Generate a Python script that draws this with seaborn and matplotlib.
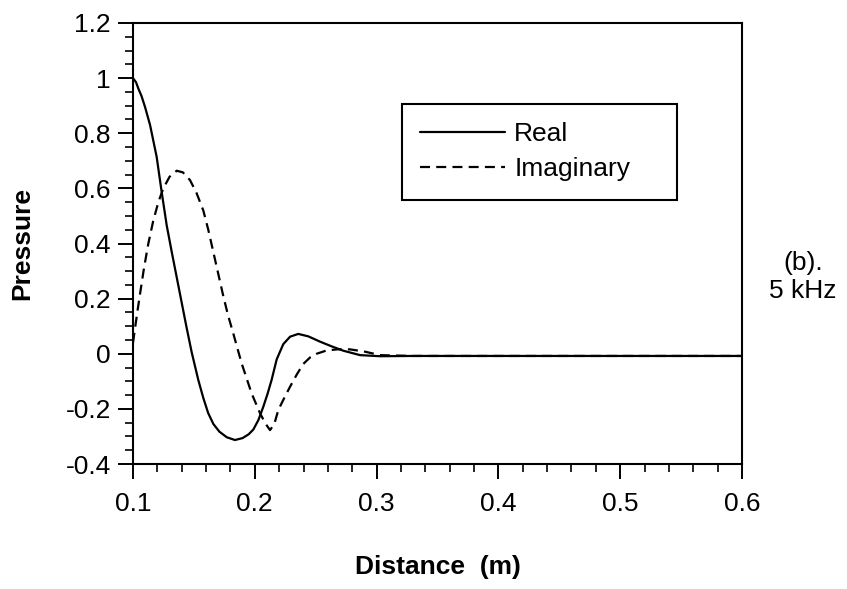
import matplotlib
matplotlib.use("Agg")
import matplotlib.pyplot as plt
import seaborn as sns
import pandas as pd
from matplotlib.ticker import MultipleLocator, FuncFormatter

# ---- data ----
real_x = [0.100, 0.1025, 0.1044, 0.1070, 0.1099, 0.114, 0.1194, 0.1236, 0.1277, 0.132,
          0.136, 0.140, 0.144, 0.1482, 0.1536, 0.1577, 0.1617, 0.166, 0.171, 0.177,
          0.1837, 0.190, 0.1950, 0.1988, 0.203, 0.207, 0.2105, 0.2138, 0.218, 0.2234,
          0.229, 0.2357, 0.244, 0.2535, 0.263, 0.2727, 0.2864, 0.303, 0.33, 0.4, 0.5, 0.6]
real_y = [1.0, 0.985, 0.962, 0.935, 0.895, 0.83, 0.715, 0.585, 0.465, 0.365,
          0.275, 0.185, 0.095, 0.005, -0.095, -0.16, -0.215, -0.255, -0.283, -0.303,
          -0.313, -0.306, -0.292, -0.275, -0.24, -0.192, -0.145, -0.095, -0.02, 0.035,
          0.062, 0.072, 0.063, 0.044, 0.027, 0.011, -0.005, -0.009, -0.008, -0.008, -0.008, -0.008]

imag_x = [0.100, 0.1016, 0.1035, 0.1057, 0.109, 0.1126, 0.1165, 0.1208, 0.1249, 0.130,
          0.1359, 0.141, 0.1468, 0.152, 0.1577, 0.1618, 0.1659, 0.170, 0.1741, 0.178,
          0.1823, 0.1892, 0.1974, 0.2043, 0.2090, 0.2125, 0.216, 0.2193, 0.224, 0.2289,
          0.2345, 0.2398, 0.2455, 0.2508, 0.259, 0.268, 0.278, 0.290, 0.3028, 0.33,
          0.4, 0.5, 0.6]
imag_y = [0.04, 0.09, 0.15, 0.215, 0.31, 0.40, 0.48, 0.55, 0.60, 0.642,
          0.664, 0.658, 0.63, 0.585, 0.52, 0.45, 0.37, 0.29, 0.21, 0.14,
          0.074, -0.035, -0.144, -0.216, -0.255, -0.277, -0.255, -0.204, -0.162, -0.12,
          -0.075, -0.037, -0.013, 0.0, 0.012, 0.016, 0.016, 0.008, -0.005, -0.008,
          -0.008, -0.008, -0.008]

series_names = ["Real", "Imaginary"]
x_ticks = [0.1, 0.2, 0.3, 0.4, 0.5, 0.6]
y_ticks = [-0.4, -0.2, 0, 0.2, 0.4, 0.6, 0.8, 1.0, 1.2]

df = pd.concat([
    pd.DataFrame({"x": real_x, "y": real_y, "Series": series_names[0]}),
    pd.DataFrame({"x": imag_x, "y": imag_y, "Series": series_names[1]}),
], ignore_index=True)

sns.set_theme(style="ticks")
plt.rcParams["font.family"] = ["Liberation Sans", "DejaVu Sans"]
plt.rcParams["axes.unicode_minus"] = False
plt.rcParams["text.color"] = "black"
plt.rcParams["axes.labelcolor"] = "black"

fig = plt.figure(figsize=(8.47, 5.89), dpi=100)
ax = fig.add_axes([133 / 847, 1 - 464 / 589, (742 - 133) / 847, (464 - 23) / 589])

sns.lineplot(data=df, x="x", y="y", style="Series", style_order=series_names,
             dashes={"Real": "", "Imaginary": (4.5, 2.8)}, color="black",
             linewidth=1.6, ax=ax, sort=False, estimator=None)

ax.set_xlim(0.1, 0.6)
ax.set_ylim(-0.4, 1.2)
ax.set_xticks(x_ticks)
ax.set_yticks(y_ticks)
ax.xaxis.set_minor_locator(MultipleLocator(0.02))
ax.yaxis.set_minor_locator(MultipleLocator(0.05))
ax.xaxis.set_major_formatter(FuncFormatter(lambda v, p: "%g" % round(v, 3)))
ax.yaxis.set_major_formatter(FuncFormatter(lambda v, p: "%g" % round(v, 3)))

for s in ax.spines.values():
    s.set_visible(True)
    s.set_linewidth(1.5)
    s.set_color("black")

ax.tick_params(axis="both", which="major", direction="out", length=11, width=1.4,
               labelsize=19, color="black", labelcolor="black")
ax.tick_params(axis="both", which="minor", direction="out", length=5.5, width=1.2,
               color="black")
ax.tick_params(axis="y", which="major", pad=5)
ax.tick_params(axis="x", which="major", pad=9)

ax.set_xlabel("Distance  (m)", fontsize=19, fontweight="bold", color="black")
ax.set_ylabel("Pressure", fontsize=19, fontweight="bold", color="black")
ax.xaxis.set_label_coords(0.5, (464 - 567) / 441)
ax.xaxis.label.set_va("center")
ax.yaxis.set_label_coords((22 - 133) / 609, 0.5)
ax.yaxis.label.set_va("center")

x0 = (402 - 133) / 609
x1 = (677 - 133) / 609
y_top = (464 - 104) / 441
y_bot = (464 - 198) / 441
leg = ax.legend(handles=ax.get_legend_handles_labels()[0],
                labels=series_names, loc="upper left", mode="expand",
                bbox_to_anchor=(x0, y_bot, x1 - x0, y_top - y_bot),
                borderaxespad=0, fontsize=19, handlelength=3.2, handletextpad=0.35,
                labelspacing=0.4, borderpad=0.7, fancybox=False, frameon=True,
                edgecolor="black", title=None)
leg.get_frame().set_linewidth(1.5)
leg.get_frame().set_alpha(1)
for line in leg.get_lines():
    line.set_linewidth(1.6)
    line.set_color("black")
for t in leg.get_texts():
    t.set_color("black")

fig.text(803 / 847, 1 - 277 / 589, "(b).\n5 kHz", ha="center", va="center",
         multialignment="center", fontsize=19, color="black", linespacing=1.2)

fig.savefig("out.png", dpi=100, facecolor="white")
